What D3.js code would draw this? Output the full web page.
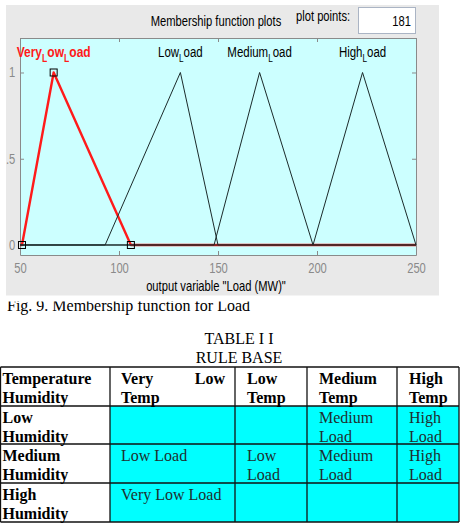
<!DOCTYPE html>
<html>
<head>
<meta charset="utf-8">
<script src="https://cdn.jsdelivr.net/npm/d3@7"></script>
<style>
  body { margin: 0; background: #fff; }
  svg { display: block; }
</style>
</head>
<body>
<svg id="chart"></svg>
<script>
// membership functions (trimf params)
const mfNames = ["Very_Low_Load", "Low_Load", "Medium_Load", "High_Load"];
const mfParams = [
  [51, 67, 106],
  [93, 131, 150],
  [148, 171, 198],
  [198, 223, 250],
];
const selectedMf = 0;
const xDomain = [50, 250];
const xTicks = [50, 100, 150, 200, 250];
const yTicks = [0, 0.5, 1];
const yTickLabels = ["0", ".5", "1"];
const plotPoints = "181";
const title = "Membership function plots";
const xLabel = 'output variable "Load (MW)"';
const caption = "Fig. 9. Membership function for Load";

// rule base table
const tableTitle = ["TABLE I I", "RULE BASE"];
const colHeaders = ["Temperature Humidity", "Very Low Temp", "Low Temp", "Medium Temp", "High Temp"];
const rowHeaders = ["Low Humidity", "Medium Humidity", "High Humidity"];
const rules = [
  ["", "", "Medium Load", "High Load"],
  ["Low Load", "Low Load", "Medium Load", "High Load"],
  ["Very Low Load", "", "", ""],
];

const W = 460, H = 526;
const sans = "'Liberation Sans', Arial, sans-serif";
const serif = "'Liberation Serif', 'Times New Roman', serif";
const sx = 0.8; // matlab gui text is narrow

const svg = d3.select("#chart").attr("width", W).attr("height", H);

drawPlot();
drawTable();

function narrowText(g, x, y, str, opts) {
  const t = g.append("g")
    .attr("transform", `translate(${x},${y}) scale(${opts.sx || sx},1)`)
    .append("text")
    .attr("font-family", sans)
    .attr("font-size", opts.size || 14)
    .attr("fill", opts.fill || "#000")
    .attr("text-anchor", opts.anchor || "start")
    .attr("font-weight", opts.weight || "normal");
  if (str != null) t.text(str);
  return t;
}

function drawPlot() {
  const margin = { top: 38, bottom: 255, left: 20, right: 416 };
  const g = svg.append("g");

  g.append("rect")
    .attr("x", 6).attr("y", 5).attr("width", 433).attr("height", 290.5)
    .attr("fill", "#e9e9e9");

  // header
  narrowText(g, 216, 26, title, { anchor: "middle", size: 14 });
  narrowText(g, 296, 21, "plot points:", { size: 14 });
  g.append("rect")
    .attr("x", 358.5).attr("y", 7.5).attr("width", 57).attr("height", 26)
    .attr("fill", "#fff").attr("stroke", "#aab4c4");
  narrowText(g, 411, 26, plotPoints, { anchor: "end", size: 14 });

  const x = d3.scaleLinear().domain(xDomain).range([margin.left, margin.right]);
  const y = d3.scaleLinear().domain([-0.058, 1.2]).range([margin.bottom, margin.top]);

  g.append("rect")
    .attr("x", margin.left).attr("y", margin.top)
    .attr("width", margin.right - margin.left)
    .attr("height", margin.bottom - margin.top)
    .attr("fill", "#ccffff");

  const axisColor = "#8a8a8a";
  function styleAxis(a) {
    a.selectAll("path, line").attr("stroke", axisColor);
    a.selectAll("text").attr("fill", axisColor).attr("font-family", sans).attr("font-size", 14);
  }

  const bottom = g.append("g")
    .attr("transform", `translate(0,${margin.bottom})`)
    .call(d3.axisBottom(x).tickValues(xTicks).tickSize(-4).tickSizeOuter(0).tickPadding(8));
  styleAxis(bottom);
  bottom.selectAll("text").attr("transform", `scale(${sx},1)`);

  const top = g.append("g")
    .attr("transform", `translate(0,${margin.top})`)
    .call(d3.axisTop(x).tickValues(xTicks).tickSize(-4).tickSizeOuter(0).tickFormat(""));
  styleAxis(top);

  const left = g.append("g")
    .attr("transform", `translate(${margin.left},0)`)
    .call(d3.axisLeft(y).tickValues(yTicks).tickSize(-4).tickSizeOuter(0).tickPadding(6)
      .tickFormat((d, i) => yTickLabels[i]));
  styleAxis(left);
  left.selectAll("text").attr("transform", `scale(${sx},1)`);

  const right = g.append("g")
    .attr("transform", `translate(${margin.right},0)`)
    .call(d3.axisRight(y).tickValues(yTicks).tickSize(-4).tickSizeOuter(0).tickFormat(""));
  styleAxis(right);

  // mf curves: selected one in red, others drawn over it thin and dark
  const line = d3.line().x((d) => x(d[0])).y((d) => y(d[1]));
  const pts = (p) => [[xDomain[0], 0], [p[0], 0], [p[1], 1], [p[2], 0], [xDomain[1], 0]];
  const order = [selectedMf].concat(mfParams.map((p, i) => i).filter((i) => i != selectedMf));

  g.append("g")
    .selectAll("path")
    .data(order)
    .join("path")
    .attr("d", (i) => line(pts(mfParams[i])))
    .attr("fill", "none")
    .attr("stroke", (i) => (i == selectedMf ? "#ff1a1a" : "#1c2b2b"))
    .attr("stroke-width", (i) => (i == selectedMf ? 2.4 : 1))
    .attr("stroke-linejoin", "round");

  g.append("g")
    .selectAll("rect")
    .data(mfParams[selectedMf].map((v, i) => [v, i == 1 ? 1 : 0]))
    .join("rect")
    .attr("x", (d) => x(d[0]) - 3.5)
    .attr("y", (d) => y(d[1]) - 3.5)
    .attr("width", 7).attr("height", 7)
    .attr("fill", "none").attr("stroke", "#000").attr("stroke-width", 1);

  // labels, "_" = tex subscript
  mfNames.forEach((name, i) => {
    const sel = i == selectedMf;
    const t = narrowText(g, x(mfParams[i][1]), 57, null, {
      anchor: "middle", size: 14,
      fill: sel ? "#ff1a1a" : "#000",
      weight: sel ? "bold" : "normal",
      sx: sel ? 0.86 : 0.82,
    });
    const parts = name.split("_");
    t.append("tspan").text(parts[0]);
    parts.slice(1).forEach((p) => {
      t.append("tspan").attr("dy", 5).attr("font-size", 10).text(p[0]);
      t.append("tspan").attr("dy", -5).text(p.slice(1));
    });
  });

  narrowText(g, 216, 291, xLabel, { anchor: "middle", size: 14 });
}

function drawTable() {
  const g = svg.append("g");
  const fs = 16;

  g.append("clipPath").attr("id", "capclip")
    .append("rect").attr("x", 0).attr("y", 301.5).attr("width", W).attr("height", 20);
  g.append("text")
    .attr("clip-path", "url(#capclip)")
    .attr("x", 7).attr("y", 311)
    .attr("font-family", serif).attr("font-size", fs)
    .text(caption);

  tableTitle.forEach((s, i) => {
    g.append("text")
      .attr("x", 239).attr("y", 344 + i * 19)
      .attr("text-anchor", "middle")
      .attr("font-family", serif).attr("font-size", fs)
      .text(s);
  });

  const colX = [0.5, 110, 235, 307, 397, 459];
  const rowY = [367, 406, 444, 483, 522];
  const padL = [2, 11, 12, 12, 12];
  const padR = 10;

  // cyan body
  g.append("rect")
    .attr("x", colX[1]).attr("y", rowY[1])
    .attr("width", colX[5] - colX[1]).attr("height", rowY[4] - rowY[1])
    .attr("fill", "#00ffff");

  const grid = g.append("g").attr("stroke", "#111").attr("stroke-width", 1.3);
  grid.selectAll(".h").data(rowY).join("line").attr("class", "h")
    .attr("x1", colX[0]).attr("x2", colX[5]).attr("y1", (d) => d).attr("y2", (d) => d);
  grid.selectAll(".v").data(colX).join("line").attr("class", "v")
    .attr("x1", (d) => d).attr("x2", (d) => d).attr("y1", rowY[0]).attr("y2", rowY[4]);

  const measure = g.append("text").attr("font-family", serif).attr("font-size", fs).attr("opacity", 0);
  function width(s, bold) {
    measure.attr("font-weight", bold ? "bold" : "normal").text(s);
    return measure.node().getComputedTextLength();
  }

  function cell(str, c, r, bold, color) {
    if (!str) return;
    const x0 = colX[c] + padL[c];
    const maxW = colX[c + 1] - padR - x0;
    const words = str.split(" ");
    const lines = [];
    let cur = [];
    words.forEach((w) => {
      const test = cur.concat([w]).join(" ");
      if (cur.length && width(test, bold) > maxW) {
        lines.push(cur);
        cur = [w];
      } else cur.push(w);
    });
    lines.push(cur);

    lines.forEach((ws, li) => {
      const yy = rowY[r] + 16.5 + li * 19;
      const last = li == lines.length - 1;
      if (!last && ws.length > 1) {
        // justified line
        const total = d3.sum(ws, (w) => width(w, bold));
        const gap = (maxW - total) / (ws.length - 1);
        let xx = x0;
        ws.forEach((w) => {
          g.append("text").attr("x", xx).attr("y", yy)
            .attr("font-family", serif).attr("font-size", fs)
            .attr("font-weight", bold ? "bold" : "normal").attr("fill", color)
            .text(w);
          xx += width(w, bold) + gap;
        });
      } else {
        g.append("text").attr("x", x0).attr("y", yy)
          .attr("font-family", serif).attr("font-size", fs)
          .attr("font-weight", bold ? "bold" : "normal").attr("fill", color)
          .text(ws.join(" "));
      }
    });
  }

  colHeaders.forEach((h, c) => cell(h, c, 0, true, "#000"));
  rowHeaders.forEach((h, r) => cell(h, 0, r + 1, true, "#000"));
  rules.forEach((row, r) => row.forEach((s, c) => cell(s, c + 1, r + 1, false, "#1f2f2f")));
  measure.remove();
}
</script>
</body>
</html>
